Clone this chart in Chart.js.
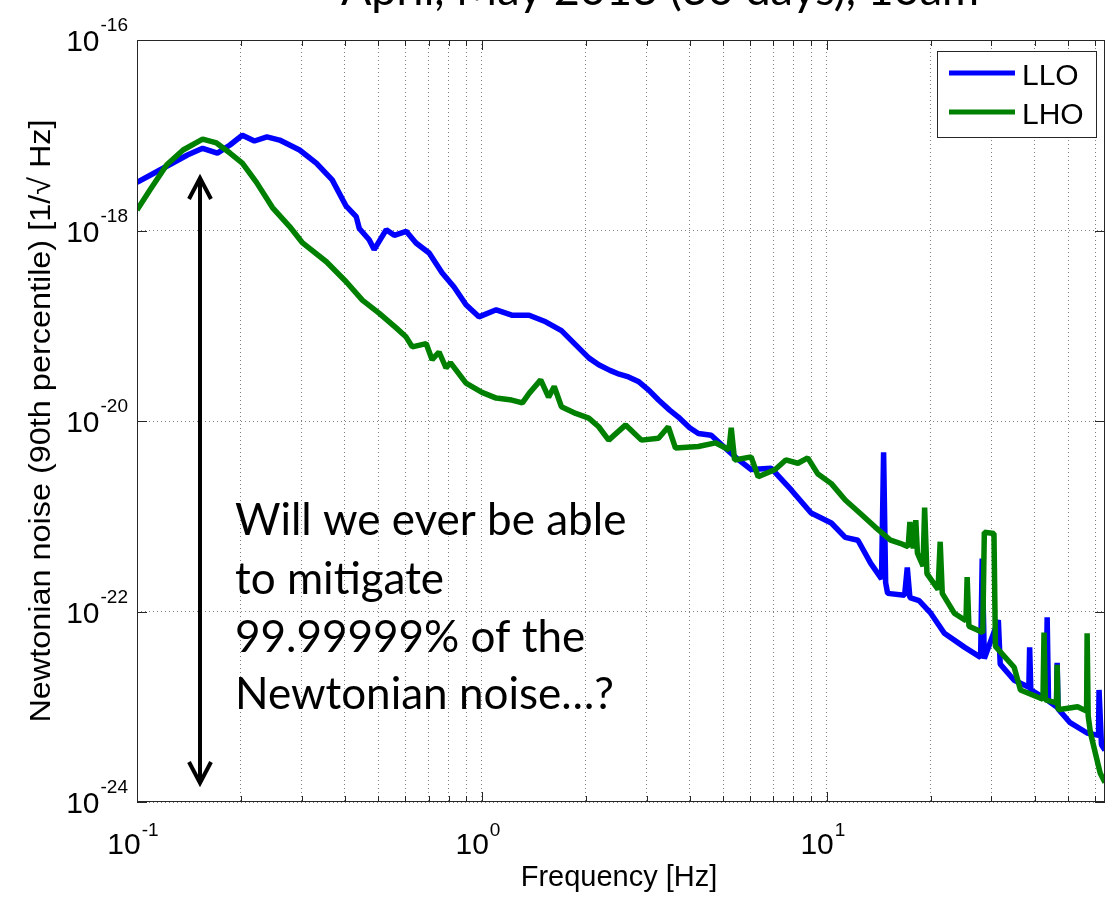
<!DOCTYPE html>
<html>
<head>
<meta charset="utf-8">
<script src="https://cdn.jsdelivr.net/npm/chart.js@4.4.1/dist/chart.umd.min.js"></script>
<style>
  body { margin: 0; background: #fff; }
  canvas { display: block; }
</style>
</head>
<body>
<canvas id="nnChart" width="1114" height="900"></canvas>
<script>
/* ---- data ---- */
var lloFreq = [0.1, 0.119, 0.14, 0.155, 0.171, 0.186, 0.202, 0.219, 0.238, 0.259, 0.296, 0.331, 0.368, 0.404, 0.432, 0.441,
  0.471, 0.487, 0.528, 0.557, 0.603, 0.644, 0.703, 0.766, 0.83, 0.899, 0.98, 1.1, 1.22, 1.37, 1.53, 1.7, 1.87, 2.04,
  2.18, 2.35, 2.5, 2.66, 2.84, 3.05, 3.25, 3.5, 3.71, 4.0, 4.24, 4.62, 5.07, 5.5, 6.03, 6.89, 7.87, 9.0, 10.3, 11.3,
  12.3, 13.4, 14.4, 14.6, 14.8, 15.0, 16.8, 17.1, 17.4, 18.5, 20.0, 21.9, 25.1, 27.9, 28.2, 28.6, 31.4, 31.8, 34.9,
  38.5, 38.7, 39.0, 43.2, 43.5, 43.9, 46.3, 46.5, 46.8, 50.7, 56.8, 61.3, 61.5, 62.5, 64];
var lloNoise = [3.2e-18, 4.5e-18, 6.2e-18, 7.3e-18, 6.5e-18, 7.9e-18, 1.0e-17, 8.7e-18, 9.6e-18, 8.9e-18, 7.0e-18, 5.1e-18,
  3.4e-18, 1.8e-18, 1.4e-18, 1.05e-18, 8.0e-19, 6.3e-19, 1.02e-18, 8.9e-19, 9.8e-19, 7.4e-19, 5.8e-19, 3.6e-19, 2.55e-19,
  1.66e-19, 1.24e-19, 1.47e-19, 1.29e-19, 1.29e-19, 1.1e-19, 8.9e-20, 6.3e-20, 4.6e-20, 3.9e-20, 3.4e-20, 3.1e-20,
  2.9e-20, 2.6e-20, 2.1e-20, 1.66e-20, 1.3e-20, 1.1e-20, 8.5e-21, 7.4e-21, 7.1e-21, 5.2e-21, 4.0e-21, 3.1e-21, 3.2e-21,
  1.9e-21, 1.08e-21, 8.5e-22, 6.0e-22, 5.6e-22, 3.2e-22, 2.2e-22, 4.7e-21, 2.0e-22, 1.55e-22, 1.48e-22, 2.9e-22, 1.4e-22,
  1.3e-22, 9.6e-23, 5.9e-23, 4.2e-23, 3.3e-23, 3.6e-22, 3.2e-23, 8.1e-23, 2.8e-23, 1.9e-23, 1.6e-23, 4.2e-23, 1.5e-23,
  1.2e-23, 8.7e-23, 1.15e-23, 1.0e-23, 2.9e-23, 9.5e-24, 6.8e-24, 5.3e-24, 5.0e-24, 1.5e-23, 4.0e-24, 3.5e-24];

var lhoFreq = [0.1, 0.109, 0.122, 0.136, 0.155, 0.17, 0.186, 0.202, 0.222, 0.247, 0.277, 0.302, 0.354, 0.404, 0.45, 0.504,
  0.564, 0.603, 0.628, 0.689, 0.717, 0.751, 0.787, 0.81, 0.899, 1.0, 1.1, 1.22, 1.31, 1.37, 1.48, 1.56, 1.62, 1.7, 1.87,
  2.04, 2.18, 2.33, 2.61, 2.9, 3.25, 3.47, 3.64, 4.24, 4.75, 5.2, 5.28, 5.4, 6.03, 6.32, 7.08, 7.6, 8.24, 8.8, 9.4, 10.3,
  11.3, 12.5, 13.8, 15.3, 16.3, 17.2, 17.4, 17.8, 18.1, 18.3, 19.0, 19.2, 19.5, 21.0, 21.3, 21.6, 23.4, 25.3, 25.5, 25.8,
  27.0, 28.3, 28.6, 30.5, 30.8, 34.9, 36.4, 42.3, 42.6, 43.0, 46.3, 46.5, 46.8, 53.3, 56.6, 56.8, 57.2, 58.1, 62, 64];
var lhoNoise = [1.64e-18, 2.66e-18, 4.9e-18, 7.0e-18, 9.1e-18, 8.3e-18, 6.5e-18, 5.1e-18, 3.2e-18, 1.74e-18, 1.1e-18,
  7.4e-19, 4.7e-19, 2.9e-19, 1.86e-19, 1.35e-19, 9.5e-20, 7.6e-20, 6.0e-20, 6.5e-20, 4.4e-20, 5.3e-20, 3.6e-20, 4.1e-20,
  2.5e-20, 2.0e-20, 1.74e-20, 1.66e-20, 1.55e-20, 1.95e-20, 2.7e-20, 1.78e-20, 2.3e-20, 1.41e-20, 1.2e-20, 1.07e-20,
  8.7e-21, 6.3e-21, 9.1e-21, 6.3e-21, 6.6e-21, 8.7e-21, 5.2e-21, 5.4e-21, 5.9e-21, 5.0e-21, 8.5e-21, 3.9e-21, 4.2e-21,
  2.6e-21, 3.1e-21, 3.9e-21, 3.6e-21, 4.1e-21, 2.8e-21, 2.2e-21, 1.48e-21, 1.07e-21, 7.7e-22, 5.6e-22, 5.2e-22, 4.8e-22,
  8.7e-22, 4.6e-22, 9.1e-22, 4.1e-22, 3.0e-22, 1.23e-21, 2.5e-22, 1.7e-22, 5.4e-22, 1.55e-22, 9.6e-23, 8.0e-23, 2.3e-22,
  7.0e-23, 6.5e-23, 6.0e-23, 6.8e-22, 6.6e-22, 4.3e-23, 2.6e-23, 1.5e-23, 1.2e-23, 6.0e-23, 1.18e-23, 1.1e-23, 2.75e-23,
  9.3e-24, 1.0e-23, 9.0e-24, 5.9e-23, 8.0e-24, 5.3e-24, 2.0e-24, 1.6e-24];

var xTicks = [0.1, 0.2, 0.3, 0.4, 0.5, 0.6, 0.7, 0.8, 0.9, 1, 2, 3, 4, 5, 6, 7, 8, 9, 10, 20, 30, 40, 50, 60];
var xLabelTicks = [0.1, 1, 10];
var yTicks = [1e-24, 1e-22, 1e-20, 1e-18, 1e-16];

var seriesNames = ['LLO', 'LHO'];
var seriesColors = ['#0000ff', '#008000'];

var titleText = 'April, May 2013 (30 days), 10am';
var xTitle = 'Frequency [Hz]';
var yTitle = 'Newtonian noise (90th percentile) [1/\u221A Hz]';
var noteLines = ['Will we ever be able', 'to mitigate', '99.99999% of the', 'Newtonian noise\u2026?'];

function toPoints(xs, ys) {
    return xs.map(function(x, i) { return { x: x, y: ys[i] }; });
}

/* ---- decorations in matlab style: box, ticks, 10^n labels, legend, note ---- */
var matlabDeco = {
    id: 'matlabDeco',
    afterDraw: function(chart) {
        var ctx = chart.ctx;
        var a = chart.chartArea;
        var xs = chart.scales.x, ys = chart.scales.y;
        var sans = '"Liberation Sans", Arial, sans-serif';

        ctx.save();
        // box
        ctx.strokeStyle = '#262626';
        ctx.lineWidth = 1;
        ctx.strokeRect(a.left + 0.5, a.top + 0.5, a.right - a.left - 1, a.bottom - a.top - 1);

        // inner tick marks
        ctx.beginPath();
        xTicks.forEach(function(v) {
            var px = Math.round(xs.getPixelForValue(v)) + 0.5;
            var len = xLabelTicks.indexOf(v) >= 0 ? 10 : 6;
            ctx.moveTo(px, a.bottom); ctx.lineTo(px, a.bottom - len);
            ctx.moveTo(px, a.top); ctx.lineTo(px, a.top + len);
        });
        yTicks.forEach(function(v) {
            var py = Math.round(ys.getPixelForValue(v)) + 0.5;
            ctx.moveTo(a.left, py); ctx.lineTo(a.left + 10, py);
            ctx.moveTo(a.right, py); ctx.lineTo(a.right - 10, py);
        });
        ctx.stroke();

        // tick labels 10^n
        ctx.fillStyle = '#000';
        ctx.textBaseline = 'alphabetic';
        yTicks.forEach(function(v) {
            var py = ys.getPixelForValue(v);
            var ex = String(Math.round(Math.log10(v)));
            ctx.font = '19px ' + sans;
            var we = ctx.measureText(ex).width;
            ctx.textAlign = 'right';
            ctx.fillText(ex, 128, py - 9);
            ctx.font = '30px ' + sans;
            ctx.fillText('10', 128 - we - 1, py + 11);
        });
        xLabelTicks.forEach(function(v) {
            var px = xs.getPixelForValue(v) - 4;
            var ex = String(Math.round(Math.log10(v)));
            ctx.font = '30px ' + sans;
            var wb = ctx.measureText('10').width;
            ctx.font = '19px ' + sans;
            var we = ctx.measureText(ex).width;
            var x0 = px - (wb + we + 1) / 2;
            ctx.textAlign = 'left';
            ctx.fillText(ex, x0 + wb + 1, 836);
            ctx.font = '30px ' + sans;
            ctx.fillText('10', x0, 854);
        });

        // axis titles
        ctx.font = '29px ' + sans;
        ctx.textAlign = 'center';
        ctx.fillText(xTitle, (a.left + a.right) / 2 - 2, 886);
        ctx.save();
        ctx.translate(50, (a.top + a.bottom) / 2);
        ctx.rotate(-Math.PI / 2);
        ctx.scale(1.08, 1);
        ctx.font = '30px ' + sans;
        ctx.fillText(yTitle, 0, 0);
        ctx.restore();

        // legend
        ctx.fillStyle = '#fff';
        ctx.fillRect(937, 51, 159, 86);
        ctx.strokeStyle = '#262626';
        ctx.lineWidth = 1;
        ctx.strokeRect(937.5, 51.5, 159, 86);
        seriesNames.forEach(function(name, i) {
            var ly = 73 + i * 39;
            ctx.strokeStyle = seriesColors[i];
            ctx.lineWidth = 5;
            ctx.beginPath();
            ctx.moveTo(949, ly); ctx.lineTo(1015, ly);
            ctx.stroke();
            ctx.fillStyle = '#000';
            ctx.font = '30px ' + sans;
            ctx.textAlign = 'left';
            ctx.fillText(name, 1022, ly + 12);
        });

        // double arrow
        var ax = 200, top = 178, bot = 783;
        ctx.strokeStyle = '#000';
        ctx.lineWidth = 4;
        ctx.lineJoin = 'miter';
        ctx.beginPath();
        ctx.moveTo(ax, top + 2); ctx.lineTo(ax, bot - 2);
        ctx.moveTo(ax - 11, top + 21); ctx.lineTo(ax, top); ctx.lineTo(ax + 11, top + 21);
        ctx.moveTo(ax - 11, bot - 21); ctx.lineTo(ax, bot); ctx.lineTo(ax + 11, bot - 21);
        ctx.stroke();

        // note text
        ctx.fillStyle = '#000';
        ctx.font = '44px Lato, "Open Sans", sans-serif';
        ctx.textAlign = 'left';
        var baselines = [535, 594, 652, 709];
        noteLines.forEach(function(t, i) { ctx.fillText(t, 235, baselines[i]); });

        // title, cut off by the top edge as in the slide
        ctx.font = '45px Lato, "Open Sans", sans-serif';
        ctx.textAlign = 'center';
        ctx.fillText(titleText, 660, 5);
        ctx.restore();
    }
};

var ctx = document.getElementById('nnChart').getContext('2d');

var nnChart = new Chart(ctx, {
    type: 'line',
    data: {
        datasets: [{
            label: seriesNames[0],
            data: toPoints(lloFreq, lloNoise),
            borderColor: seriesColors[0],
            borderWidth: 5.5,
            pointRadius: 0,
            tension: 0,
            borderJoinStyle: 'bevel',
            order: 2
        }, {
            label: seriesNames[1],
            data: toPoints(lhoFreq, lhoNoise),
            borderColor: seriesColors[1],
            borderWidth: 5.5,
            pointRadius: 0,
            tension: 0,
            borderJoinStyle: 'bevel',
            order: 1
        }]
    },
    options: {
        responsive: false,
        animation: false,
        layout: { padding: { left: 137, right: 9, top: 40, bottom: 98 } },
        plugins: {
            legend: { display: false },
            tooltip: { enabled: false }
        },
        scales: {
            x: {
                type: 'logarithmic',
                min: 0.1,
                max: 64,
                afterBuildTicks: function(s) { s.ticks = xTicks.map(function(v) { return { value: v }; }); },
                afterFit: function(s) { s.height = 0; },
                ticks: { display: false },
                grid: { color: '#808080', lineWidth: 1, drawTicks: false },
                border: { display: false, dash: [1, 3] }
            },
            y: {
                type: 'logarithmic',
                min: 1e-24,
                max: 1e-16,
                afterBuildTicks: function(s) { s.ticks = yTicks.map(function(v) { return { value: v }; }); },
                afterFit: function(s) { s.width = 0; },
                ticks: { display: false },
                grid: { color: '#808080', lineWidth: 1, drawTicks: false },
                border: { display: false, dash: [1, 3] }
            }
        }
    },
    plugins: [matlabDeco]
});
</script>
</body>
</html>
